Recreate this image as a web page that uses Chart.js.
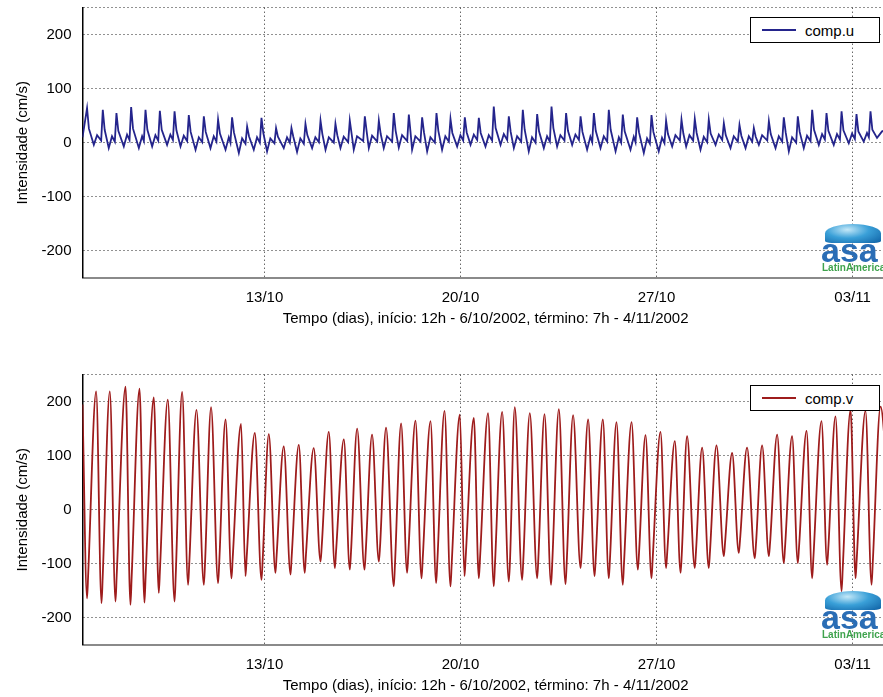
<!DOCTYPE html>
<html>
<head>
<meta charset="utf-8">
<script src="https://cdn.jsdelivr.net/npm/chart.js@4"></script>
<style>
  html, body { margin: 0; padding: 0; background: #fff; overflow: hidden; width: 883px; height: 697px; }
  canvas { position: absolute; left: 0; }
  .legend { position: absolute; left: 750px; width: 130px; height: 26px; border: 1px solid #000; background: #fff;
            box-sizing: border-box; font: 15px "Liberation Sans", Arial, sans-serif; color: #000; }
  .legend .swatch { position: absolute; left: 11px; top: 11px; width: 34px; height: 2px; }
  .legend .name { position: absolute; left: 54px; top: 4px; }
  .logo { position: absolute; left: 820px; width: 70px; height: 50px; font-family: "Liberation Sans", Arial, sans-serif; }
  .logo .dome { position: absolute; left: 5px; top: 0; width: 56px; height: 19px; border-radius: 50% 50% 12% 12%;
                background: radial-gradient(ellipse at 40% 30%, #c4e8f8 0%, #3aa0d8 45%, #0d5fa3 100%); }
  .logo .asa { position: absolute; left: 1px; top: 7px; font-size: 34px; font-weight: bold; color: #2a6db5; }
  .logo .latin { position: absolute; left: 2px; top: 38px; font-size: 10px; font-weight: bold; color: #3fa34d; }
</style>
</head>
<body>
<canvas id="chart-u" width="890" height="330" style="top:0"></canvas>
<canvas id="chart-v" width="890" height="330" style="top:367px"></canvas>

<div class="legend" style="top:17px"><span class="swatch" style="background:#24248c"></span><span class="name">comp.u</span></div>
<div class="legend" style="top:385px"><span class="swatch" style="background:#9e1c1c"></span><span class="name">comp.v</span></div>

<div class="logo" style="top:224px"><div class="dome"></div><div class="asa">asa</div><div class="latin">LatinAmerica</div></div>
<div class="logo" style="top:591px"><div class="dome"></div><div class="asa">asa</div><div class="latin">LatinAmerica</div></div>

<script>
// hours counted from 12h of 6/10/2002 up to 7h of 4/11/2002
const tMax = 691;
const tickHours = [156, 324, 492, 660];
const tickLabels = ['13/10', '20/10', '27/10', '03/11'];
const yTicks = [-200, -100, 0, 100, 200];

const xTitle = 'Tempo (dias), início: 12h - 6/10/2002, término: 7h - 4/11/2002';
const yTitle = 'Intensidade (cm/s)';

// comp.u (cm/s), one tide cycle per line: peak, shoulder, trough, bump, foot
const uHours = [
  0,
  3.9, 5.5, 9.7, 12.5, 16,
  17.4, 19, 22.5, 25.3, 27.7,
  29.1, 30.7, 35.4, 38.2, 40.3,
  41.7, 43.3, 48.3, 51.1, 52.6,
  54, 55.6, 59.7, 62.5, 64.9,
  66.3, 67.9, 72.5, 75.3, 77.5,
  78.9, 80.5, 84, 86.8, 89.7,
  91.1, 92.7, 96.9, 99.7, 102.6,
  104, 105.6, 109.7, 112.5, 114.8,
  116.2, 117.8, 122.6, 125.4, 126.8,
  128.2, 129.8, 134, 136.8, 139.7,
  141.1, 142.7, 146.8, 149.6, 152,
  153.4, 155, 158.2, 161, 164.5,
  165.9, 167.5, 172.5, 175.3, 177.7,
  179.1, 180.7, 183.9, 186.7, 189.7,
  191.1, 192.7, 196.8, 199.6, 202.6,
  204, 205.6, 208.3, 211.1, 215.4,
  216.8, 218.4, 221.1, 223.9, 227.7,
  229.1, 230.7, 232.5, 235.3, 240.6,
  242, 243.6, 245.4, 248.2, 252.6,
  254, 255.6, 258.2, 261, 265.4,
  266.8, 268.4, 271.1, 273.9, 278.3,
  279.7, 281.1, 282.5, 285.3, 289.7,
  291.1, 292.7, 295.4, 298.2, 302,
  303.4, 305, 308.2, 311, 314,
  315.4, 317, 321.1, 323.9, 326.3,
  327.7, 329.3, 332.6, 335.4, 338.3,
  339.7, 341.3, 345.4, 348.2, 351.1,
  352.5, 354.1, 358.3, 361.1, 364,
  365.4, 367, 369.7, 372.5, 376,
  377.4, 379, 382.5, 385.3, 388.3,
  389.7, 391.3, 395.4, 398.2, 400.6,
  402, 403.6, 406.8, 409.6, 413.1,
  414.5, 416.1, 419.7, 422.5, 425.5,
  426.9, 428.5, 432.5, 435.3, 436.9,
  438.3, 439.9, 444, 446.8, 449.7,
  451.1, 452.7, 456.9, 459.7, 461.7,
  463.1, 464.7, 469.7, 472.5, 474,
  475.4, 477, 481.1, 483.9, 486.3,
  487.7, 489.3, 493.9, 496.7, 498.8,
  500.2, 501.8, 505.4, 508.2, 512,
  513.4, 515, 517.4, 520.2, 523.4,
  524.8, 526.4, 529.7, 532.5, 535.4,
  536.8, 538.4, 542.6, 545.4, 548.3,
  549.7, 551.3, 555.4, 558.2, 561.7,
  563.1, 564.7, 568.3, 571.1, 574,
  575.4, 577, 579.7, 582.5, 586.9,
  588.3, 589.9, 594, 596.8, 599.7,
  601.1, 602.7, 605.4, 608.2, 611.7,
  613.1, 614.7, 618.2, 621, 624,
  625.4, 627, 631.1, 633.9, 636.3,
  637.7, 639.3, 643.9, 646.7, 649.2,
  650.6, 652.2, 656.8, 659.6, 662,
  663.4, 665, 669.6, 672.4, 674,
  675.4, 677, 681, 685.3, 691
];
const uValues = [
  10,
  64, 26, -4, 14, 4,
  61, 24, -10, 12, 2,
  55, 22, -7, 15, 5,
  66, 26, -10, 12, 3,
  61, 24, -7, 14, 4,
  59, 24, -4, 15, 5,
  58, 23, -7, 13, 3,
  51, 20, -13, 10, 1,
  49, 20, -10, 12, 2,
  43, 17, -13, 10, 0,
  47, 19, -19, 8, -2,
  30, 12, -13, 10, 0,
  46, 18, -16, 8, -1,
  27, 11, -10, 10, 0,
  27, 11, -17, 8, -2,
  35, 14, -10, 10, 1,
  41, 16, -13, 10, 0,
  35, 14, -10, 11, 1,
  41, 16, -13, 12, 3,
  49, 20, -10, 13, 2,
  41, 16, -10, 12, 2,
  55, 22, -9, 14, 3,
  52, 21, -13, 12, 2,
  47, 19, -16, 10, 0,
  55, 22, -13, 12, 2,
  44, 18, -7, 14, 4,
  47, 19, -4, 15, 5,
  46, 18, -7, 14, 4,
  67, 27, -4, 16, 5,
  49, 20, -10, 12, 2,
  61, 24, -16, 10, 0,
  53, 21, -10, 12, 2,
  67, 27, -7, 14, 4,
  55, 22, -4, 15, 5,
  49, 20, -13, 11, 1,
  55, 22, -10, 12, 2,
  61, 24, -16, 10, 0,
  52, 21, -13, 11, 1,
  47, 19, -19, 8, -2,
  51, 20, -16, 9, -1,
  41, 16, -7, 14, 4,
  43, 17, -7, 14, 4,
  44, 18, -13, 11, 1,
  43, 17, -4, 15, 5,
  36, 14, -10, 12, 2,
  33, 13, -10, 12, 2,
  27, 11, -4, 14, 4,
  40, 16, -10, 12, 2,
  47, 19, -16, 10, 0,
  49, 20, -10, 13, 3,
  61, 24, -4, 16, 6,
  55, 22, -4, 16, 6,
  58, 23, -1, 17, 7,
  53, 21, 2, 18, 10,
  58, 24, 9, 21, 25
];

// comp.v (cm/s), one tide cycle per line: trough, rebound, peak
const vHours = [
  0,
  3.9, 4.9, 11.7,
  16.3, 17.3, 23.4,
  28.3, 29.3, 36.9,
  41.1, 42.1, 48.9,
  53.1, 54.1, 61.1,
  65.4, 66.4, 73.1,
  78.9, 79.9, 85.4,
  90.5, 91.5, 97.7,
  104, 105, 110.2,
  116.2, 117.2, 122.6,
  127.7, 128.7, 135.9,
  139.7, 140.7, 147.7,
  153.4, 154.4, 159.7,
  165.4, 166.4, 172.5,
  178.3, 179.3, 185.4,
  190.5, 191.5, 198.2,
  204, 205, 211.1,
  216.3, 217.3, 224,
  229.1, 230.1, 235.4,
  241.7, 242.7, 248.2,
  254, 255, 260.2,
  266.8, 267.8, 273.1,
  278.2, 279.2, 285.4,
  290.6, 291.6, 298.3,
  303.1, 304.1, 310.3,
  315.4, 316.4, 323.4,
  327.4, 328.4, 335.4,
  339.7, 340.7, 347.6,
  352.5, 353.5, 359.7,
  365.4, 366.4, 370.5,
  376.8, 377.8, 383.4,
  389.7, 390.7, 396,
  401.6, 402.6, 408.3,
  414, 415, 420.5,
  426.9, 427.9, 433.4,
  438.9, 439.9, 446,
  451.1, 452.1, 457.7,
  463.1, 464.1, 470.6,
  476, 477, 482.6,
  487.7, 488.7, 495.4,
  500.2, 501.2, 507.7,
  512.6, 513.6, 518.2,
  524.8, 525.8, 531.1,
  536.8, 537.8, 543.4,
  549.7, 550.7, 556.8,
  562.5, 563.5, 569.6,
  576.2, 577.2, 582.5,
  588.3, 589.3, 595.4,
  601.1, 602.1, 608.2,
  613.1, 614.1, 620.6,
  625.4, 626.4, 633.4,
  638.2, 639.2, 645.4,
  650.6, 651.6, 658.3,
  662.6, 663.6, 671.1,
  676.3, 677.3, 684,
  691
];
const vValues = [
  195,
  -164, -118, 219,
  -173, -125, 219,
  -170, -122, 228,
  -176, -127, 224,
  -172, -124, 208,
  -154, -111, 204,
  -170, -122, 218,
  -139, -100, 185,
  -139, -100, 190,
  -136, -98, 167,
  -127, -91, 159,
  -123, -89, 142,
  -130, -94, 140,
  -117, -84, 117,
  -120, -86, 120,
  -117, -84, 114,
  -96, -69, 144,
  -108, -78, 130,
  -111, -80, 150,
  -111, -80, 139,
  -96, -69, 152,
  -142, -102, 160,
  -117, -84, 165,
  -127, -91, 164,
  -136, -98, 183,
  -142, -102, 176,
  -123, -89, 170,
  -127, -91, 179,
  -142, -102, 181,
  -133, -96, 190,
  -130, -94, 179,
  -127, -91, 177,
  -139, -100, 186,
  -138, -99, 175,
  -108, -78, 167,
  -123, -89, 167,
  -127, -91, 162,
  -139, -100, 162,
  -111, -80, 138,
  -127, -91, 144,
  -108, -78, 127,
  -117, -84, 136,
  -108, -78, 115,
  -108, -78, 119,
  -86, -62, 105,
  -80, -58, 115,
  -90, -65, 119,
  -86, -62, 139,
  -99, -71, 136,
  -99, -71, 146,
  -127, -91, 164,
  -102, -73, 173,
  -151, -109, 185,
  -127, -91, 183,
  -139, -100, 191,
  20
];

const font = { family: '"Liberation Sans", Arial, sans-serif', size: 15 };

function makeChart(id, hours, values, color, smooth) {
  const ctx = document.getElementById(id).getContext('2d');
  return new Chart(ctx, {
    type: 'line',
    data: {
      datasets: [{
        data: hours.map((h, i) => ({ x: h, y: values[i] })),
        borderColor: color,
        borderWidth: 1.8,
        pointRadius: 0,
        tension: 0,
        cubicInterpolationMode: smooth ? 'monotone' : 'default'
      }]
    },
    options: {
      responsive: false,
      animation: false,
      layout: { padding: { top: 7.7, right: 1.3, left: 0, bottom: 0 } },
      plugins: { legend: { display: false }, tooltip: { enabled: false } },
      scales: {
        x: {
          type: 'linear',
          min: 0,
          max: tMax,
          afterBuildTicks: s => { s.ticks = tickHours.map(v => ({ value: v })); },
          afterFit: s => {
            s.height = 52.3;
            s.paddingLeft = 0;
            s.paddingRight = 0;
          },
          ticks: { callback: (v, i) => tickLabels[i], font, color: '#000', padding: 11, maxRotation: 0, autoSkip: false },
          grid: { color: '#222', lineWidth: 1, drawTicks: false },
          border: { color: '#8a8a8a', width: 2, dash: [1, 3] },
          title: { display: true, text: xTitle, font, color: '#000', padding: { top: 0, bottom: 2 } }
        },
        y: {
          min: -250,
          max: 250,
          afterBuildTicks: s => { s.ticks = yTicks.concat([250]).map(v => ({ value: v })); },
          afterFit: s => {
            s.width = 82.5;
            s.paddingTop = 0;
            s.paddingBottom = 0;
          },
          ticks: { callback: v => (v === 250 ? '' : v), font, color: '#000', padding: 11 },
          grid: { color: '#222', lineWidth: 1, drawTicks: false },
          border: { color: '#000', width: 1.5, dash: [1, 3] },
          title: { display: true, text: yTitle, font, color: '#000', padding: { top: 14, bottom: 0 } }
        }
      }
    }
  });
}

makeChart('chart-u', uHours, uValues, '#24248c', false);
makeChart('chart-v', vHours, vValues, '#9e1c1c', true);
</script>
</body>
</html>
